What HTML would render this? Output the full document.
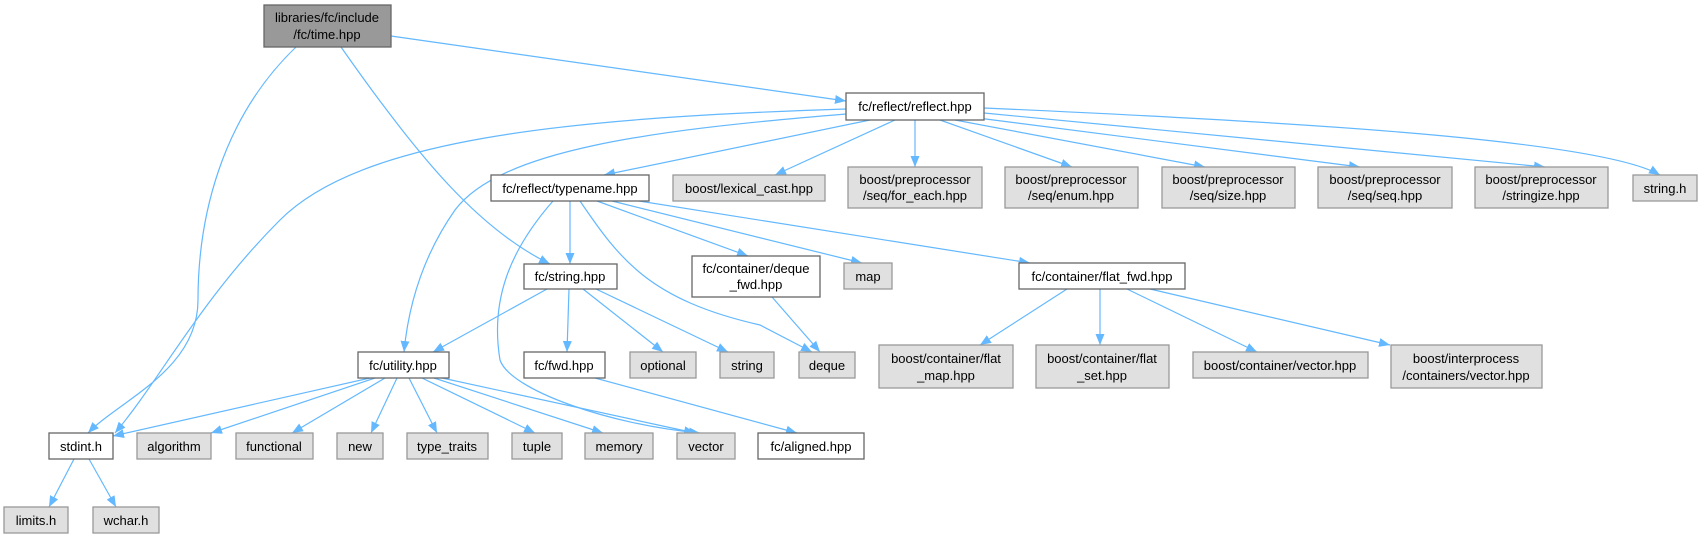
<!DOCTYPE html>
<html><head><meta charset="utf-8"><style>
html,body{margin:0;padding:0;background:#fff;}
svg{display:block;font-family:"Liberation Sans",Arial,sans-serif;font-size:13px;}
.n rect{stroke:#666;stroke-width:1.3;}
.w{fill:#fff}.g{fill:#e0e0e0;stroke:#999 !important}.d{fill:#999}
text{text-anchor:middle;fill:#000}
path.e{fill:none;stroke:#63b8ff;stroke-width:1.2}
</style></head><body>
<svg width="1699" height="538" viewBox="0 0 1699 538">
<defs><marker id="a" markerWidth="12" markerHeight="10" refX="11" refY="5" orient="auto" markerUnits="userSpaceOnUse"><path d="M0,0.5 L11,5 L0,9.5z" fill="#63b8ff"/></marker></defs>
<g marker-end="url(#a)">
<path class="e" d="M296,47 C220,120 198,220 198,300 C198,370 120,400 88,433"/>
<path class="e" d="M341,47 C420,160 480,230 550,264"/>
<path class="e" d="M391,36 L846,101"/>
<path class="e" d="M846,109 C560,118 360,140 280,220 C200,300 160,380 115,433"/>
<path class="e" d="M846,114 C650,130 500,150 455,210 C420,260 408,310 404,352"/>
<path class="e" d="M870,120 L604,175"/>
<path class="e" d="M895,120 L775,175"/>
<path class="e" d="M915,120 L915,167"/>
<path class="e" d="M940,120 L1072,167"/>
<path class="e" d="M955,120 L1205,167"/>
<path class="e" d="M970,117 L1360,167"/>
<path class="e" d="M984,113 L1545,167"/>
<path class="e" d="M984,108 C1300,122 1600,140 1660,175"/>
<path class="e" d="M570,201 L570,264"/>
<path class="e" d="M553,201 C510,250 490,300 500,360 C510,390 610,425 700,433"/>
<path class="e" d="M580,201 C620,260 650,300 760,325 L812,352"/>
<path class="e" d="M597,201 L748,256"/>
<path class="e" d="M612,201 L862,263"/>
<path class="e" d="M620,198 L1030,263"/>
<path class="e" d="M547,289 L433,352"/>
<path class="e" d="M569,289 L567,352"/>
<path class="e" d="M583,289 L663,352"/>
<path class="e" d="M596,289 L728,352"/>
<path class="e" d="M772,297 L820,352"/>
<path class="e" d="M1067,289 L980,345"/>
<path class="e" d="M1100,289 L1100,345"/>
<path class="e" d="M1127,289 L1257,352"/>
<path class="e" d="M1150,289 L1390,345"/>
<path class="e" d="M370,378 L113,436"/>
<path class="e" d="M375,378 L211,433"/>
<path class="e" d="M385,378 L292,433"/>
<path class="e" d="M397,378 L371,433"/>
<path class="e" d="M409,378 L437,433"/>
<path class="e" d="M422,378 L535,433"/>
<path class="e" d="M434,378 L603,433"/>
<path class="e" d="M442,378 L695,433"/>
<path class="e" d="M595,378 L797,433"/>
<path class="e" d="M74,459 L49,507"/>
<path class="e" d="M89,459 L116,507"/>
</g>
<g class="n">
<rect class="d" x="264" y="5" width="127" height="42"/><text x="327" y="22">libraries/fc/include</text><text x="327" y="39">/fc/time.hpp</text>
<rect class="w" x="846" y="93" width="138" height="27"/><text x="915" y="111">fc/reflect/reflect.hpp</text>
<rect class="w" x="491" y="175" width="158" height="26"/><text x="570" y="193">fc/reflect/typename.hpp</text>
<rect class="g" x="673" y="175" width="152" height="26"/><text x="749" y="193">boost/lexical_cast.hpp</text>
<rect class="g" x="848" y="167" width="134" height="41"/><text x="915" y="184">boost/preprocessor</text><text x="915" y="200">/seq/for_each.hpp</text>
<rect class="g" x="1005" y="167" width="133" height="41"/><text x="1071" y="184">boost/preprocessor</text><text x="1071" y="200">/seq/enum.hpp</text>
<rect class="g" x="1162" y="167" width="133" height="41"/><text x="1228" y="184">boost/preprocessor</text><text x="1228" y="200">/seq/size.hpp</text>
<rect class="g" x="1318" y="167" width="134" height="41"/><text x="1385" y="184">boost/preprocessor</text><text x="1385" y="200">/seq/seq.hpp</text>
<rect class="g" x="1475" y="167" width="133" height="41"/><text x="1541" y="184">boost/preprocessor</text><text x="1541" y="200">/stringize.hpp</text>
<rect class="g" x="1633" y="175" width="64" height="26"/><text x="1665" y="193">string.h</text>
<rect class="w" x="524" y="264" width="93" height="25"/><text x="570" y="281">fc/string.hpp</text>
<rect class="w" x="692" y="256" width="128" height="41"/><text x="756" y="273">fc/container/deque</text><text x="756" y="289">_fwd.hpp</text>
<rect class="g" x="844" y="263" width="48" height="26"/><text x="868" y="281">map</text>
<rect class="w" x="1019" y="263" width="166" height="26"/><text x="1102" y="281">fc/container/flat_fwd.hpp</text>
<rect class="w" x="358" y="352" width="91" height="26"/><text x="403" y="370">fc/utility.hpp</text>
<rect class="w" x="524" y="352" width="81" height="26"/><text x="564" y="370">fc/fwd.hpp</text>
<rect class="g" x="630" y="352" width="66" height="26"/><text x="663" y="370">optional</text>
<rect class="g" x="720" y="352" width="54" height="26"/><text x="747" y="370">string</text>
<rect class="g" x="799" y="352" width="56" height="26"/><text x="827" y="370">deque</text>
<rect class="g" x="879" y="345" width="134" height="43"/><text x="946" y="363">boost/container/flat</text><text x="946" y="380">_map.hpp</text>
<rect class="g" x="1036" y="345" width="133" height="43"/><text x="1102" y="363">boost/container/flat</text><text x="1102" y="380">_set.hpp</text>
<rect class="g" x="1193" y="352" width="175" height="26"/><text x="1280" y="370">boost/container/vector.hpp</text>
<rect class="g" x="1391" y="345" width="151" height="43"/><text x="1466" y="363">boost/interprocess</text><text x="1466" y="380">/containers/vector.hpp</text>
<rect class="w" x="49" y="433" width="64" height="26"/><text x="81" y="451">stdint.h</text>
<rect class="g" x="137" y="433" width="74" height="26"/><text x="174" y="451">algorithm</text>
<rect class="g" x="236" y="433" width="77" height="26"/><text x="274" y="451">functional</text>
<rect class="g" x="337" y="433" width="46" height="26"/><text x="360" y="451">new</text>
<rect class="g" x="407" y="433" width="81" height="26"/><text x="447" y="451">type_traits</text>
<rect class="g" x="512" y="433" width="50" height="26"/><text x="537" y="451">tuple</text>
<rect class="g" x="585" y="433" width="68" height="26"/><text x="619" y="451">memory</text>
<rect class="g" x="677" y="433" width="58" height="26"/><text x="706" y="451">vector</text>
<rect class="w" x="758" y="433" width="106" height="26"/><text x="811" y="451">fc/aligned.hpp</text>
<rect class="g" x="4" y="507" width="64" height="26"/><text x="36" y="525">limits.h</text>
<rect class="g" x="93" y="507" width="66" height="26"/><text x="126" y="525">wchar.h</text>
</g>
</svg>
</body></html>
